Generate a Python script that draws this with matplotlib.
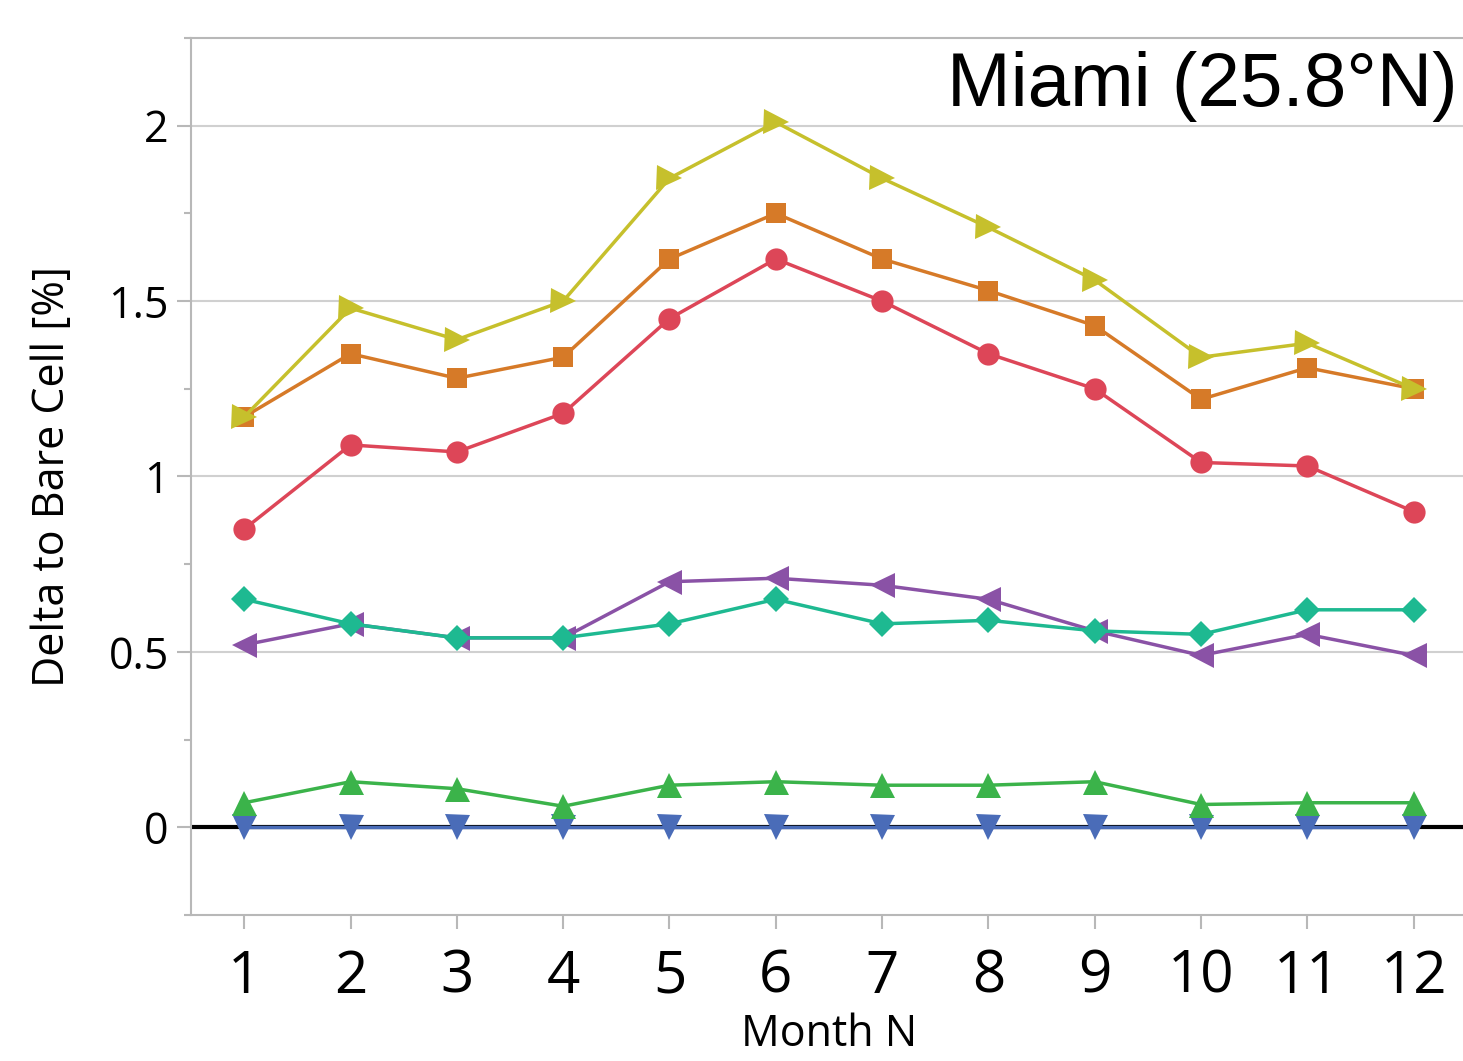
import numpy as np
import matplotlib
matplotlib.use("Agg")
import matplotlib.pyplot as plt
from matplotlib.ticker import MultipleLocator, FuncFormatter

plt.rcParams['font.family'] = ['Open Sans', 'DejaVu Sans']

months = np.arange(1, 13)
yellow = [1.17, 1.48, 1.39, 1.50, 1.85, 2.01, 1.85, 1.71, 1.56, 1.34, 1.38, 1.25]
orange = [1.17, 1.35, 1.28, 1.34, 1.62, 1.75, 1.62, 1.53, 1.43, 1.22, 1.31, 1.25]
red = [0.85, 1.09, 1.07, 1.18, 1.45, 1.62, 1.50, 1.35, 1.25, 1.04, 1.03, 0.90]
teal = [0.65, 0.58, 0.54, 0.54, 0.58, 0.65, 0.58, 0.59, 0.56, 0.55, 0.62, 0.62]
purple = [0.52, 0.58, 0.54, 0.54, 0.70, 0.71, 0.69, 0.65, 0.56, 0.49, 0.55, 0.49]
green = [0.07, 0.13, 0.11, 0.06, 0.12, 0.13, 0.12, 0.12, 0.13, 0.065, 0.07, 0.07]
blue = [0, 0, 0, 0, 0, 0, 0, 0, 0, 0, 0, 0]

# (values, colour, marker, marker size)
series = [
    (blue, '#4a6cb8', 'v', 18),
    (green, '#3bb34a', '^', 18),
    (purple, '#8a52a6', '<', 18),
    (teal, '#1eb991', 'D', 13),
    (red, '#dd4658', 'o', 16),
    (orange, '#d67a28', 's', 14),
    (yellow, '#c6c02c', '>', 18),
]

fig = plt.figure(figsize=(14.63, 10.61), dpi=100)
ax = fig.add_axes([0.1306, 0.1376, 0.872, 0.8266])

ax.axhline(0, color='black', lw=3, zorder=2)
for vals, col, mk, ms in series:
    ax.plot(months, vals, color=col, marker=mk, markersize=ms, lw=2.5,
            markeredgewidth=0, clip_on=False, zorder=3)

ax.set_xlim(0.5, 12.5)
ax.set_ylim(-0.25, 2.25)
ax.set_xticks(months)
ax.yaxis.set_major_locator(MultipleLocator(0.5))
ax.yaxis.set_minor_locator(MultipleLocator(0.25))
ax.yaxis.set_major_formatter(FuncFormatter(lambda v, p: f'{v:g}'))
ax.grid(axis='y', which='major', color='#d0d0d0', lw=1.5, zorder=1)

for s in ['left', 'top', 'bottom', 'right']:
    ax.spines[s].set_color('#b8b8b8')
    ax.spines[s].set_linewidth(1.5)

ax.tick_params(axis='x', which='major', length=10, width=1.5, color='#b8b8b8',
               labelsize=42, pad=14)
ax.tick_params(axis='y', which='major', length=10, width=1.5, color='#b8b8b8',
               labelsize=31, pad=6)
ax.tick_params(axis='y', which='minor', length=5, width=1.5, color='#b8b8b8')

ax.set_xlabel('Month N', fontsize=31, labelpad=4)
ax.set_ylabel('Delta to Bare Cell [%]', fontsize=31, labelpad=24)

ax.text(0.993, 0.985, 'Miami (25.8°N)', transform=ax.transAxes, ha='right',
        va='top', fontsize=55, family=['Liberation Sans', 'DejaVu Sans'])

fig.savefig('out.png', dpi=100)
